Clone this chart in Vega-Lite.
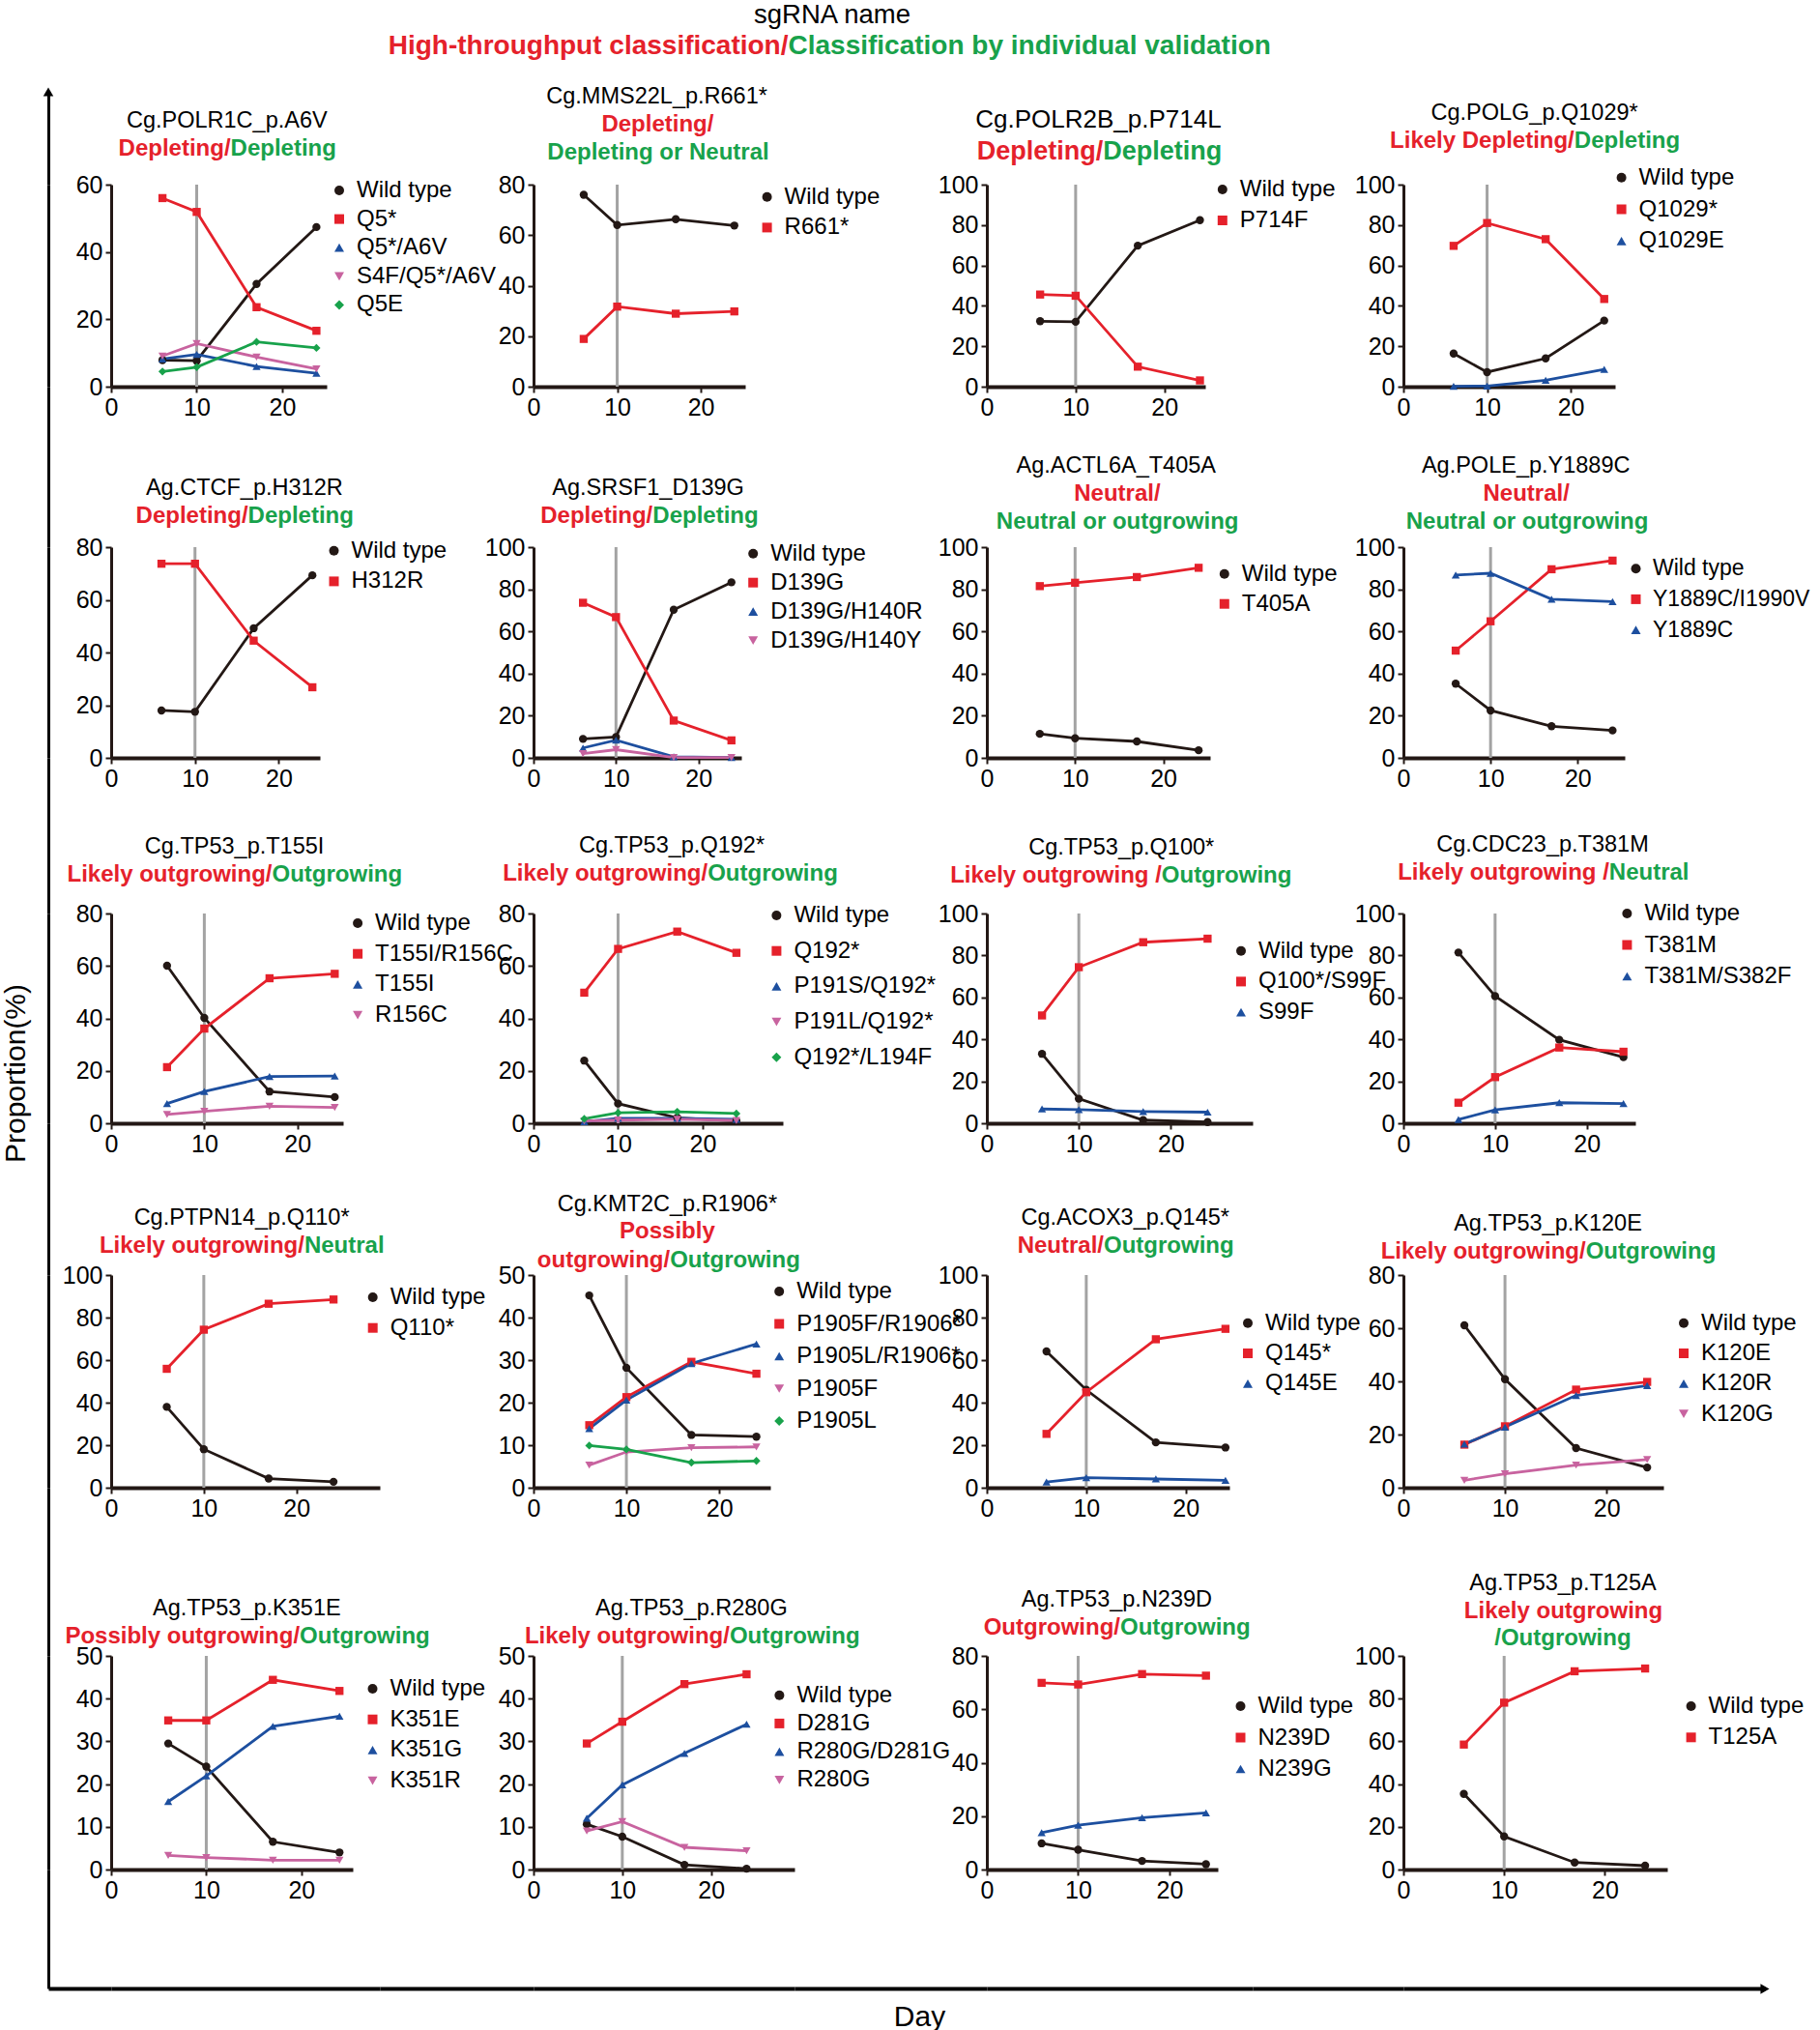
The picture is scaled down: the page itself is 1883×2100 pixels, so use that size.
{
"$schema": "https://vega.github.io/schema/vega-lite/v6.json",
"background": "white",
"padding": {"left": 1, "top": 1, "right": 0, "bottom": 1},
"title": {"text": "sgRNA name", "fontSize": 27.5, "anchor": "start", "dx": 730, "offset": 4},
"columns": 8, "spacing": 0, "bounds": "flush",
"resolve": {"scale": {"color": "independent", "shape": "independent", "stroke": "independent"}, "legend": {"color": "independent", "shape": "independent"}},
"concat": [
 {"width": 65, "height": 96, "data": {"values": [{}]}, "mark": {"type": "point", "shape": "triangle-up", "filled": true, "color": "#000", "size": 110, "opacity": 1},
  "encoding": {"x": {"datum": 0, "type": "quantitative", "scale": {"domain": [0, 1]}, "axis": null}, "y": {"datum": 1, "type": "quantitative", "scale": {"domain": [0, 1]}, "axis": {"domainWidth": 3, "domainColor": "#000", "ticks": false, "labels": false, "title": null}}}},
 {"width": 1, "height": 96, "data": {"values": [{}]}, "mark": {"type": "point", "opacity": 0},
  "encoding": {
   "x": {"datum": 0, "type": "quantitative", "scale": {"domain": [0, 1]}, "axis": {"domain": false, "ticks": false, "labels": false, "title": "High-throughput classification/", "titleX": 700, "titleY": -144, "titleAlign": "right", "titleFontSize": 28}},
   "y": {"datum": 0, "type": "quantitative", "scale": {"domain": [0, 1]}, "axis": {"domain": false, "ticks": false, "labels": false, "title": "Classification by individual validation", "titleX": 700, "titleY": -48, "titleAlign": "left", "titleAngle": 0, "titleFontSize": 28}}}},
 {"width": 1, "height": 1, "data": {"values": []}, "mark": "point", "encoding": {}},
 {"width": 1, "height": 1, "data": {"values": []}, "mark": "point", "encoding": {}},
 {"width": 1, "height": 1, "data": {"values": []}, "mark": "point", "encoding": {}},
 {"width": 1, "height": 1, "data": {"values": []}, "mark": "point", "encoding": {}},
 {"width": 1, "height": 1, "data": {"values": []}, "mark": "point", "encoding": {}},
 {"width": 1, "height": 1, "data": {"values": []}, "mark": "point", "encoding": {}},

 {"width": 65, "height": 209, "data": {"values": [{}]}, "mark": {"type": "point", "opacity": 0}, "encoding": {"y": {"datum": 0, "type": "quantitative", "scale": {"domain": [0, 1]}, "axis": {"domainWidth": 3, "domainColor": "#000", "ticks": false, "labels": false, "title": null}}}},
 {"width": 223, "height": 209, "title": {"text": "Cg.POLR1C_p.A6V", "dx": 8.3},
  "data": {"values": [{"s":"Wild type","d":6,"v":7.9},{"s":"Wild type","d":10,"v":7.7},{"s":"Wild type","d":17,"v":30.5},{"s":"Wild type","d":24,"v":47.4},{"s":"Q5*","d":6,"v":56.0},{"s":"Q5*","d":10,"v":51.9},{"s":"Q5*","d":17,"v":23.6},{"s":"Q5*","d":24,"v":16.6},{"s":"Q5*/A6V","d":6,"v":8.2},{"s":"Q5*/A6V","d":10,"v":9.6},{"s":"Q5*/A6V","d":17,"v":6.0},{"s":"Q5*/A6V","d":24,"v":4.0},{"s":"S4F/Q5*/A6V","d":6,"v":9.1},{"s":"S4F/Q5*/A6V","d":10,"v":12.8},{"s":"S4F/Q5*/A6V","d":17,"v":8.8},{"s":"S4F/Q5*/A6V","d":24,"v":5.3},{"s":"Q5E","d":6,"v":4.5},{"s":"Q5E","d":10,"v":5.8},{"s":"Q5E","d":17,"v":13.3},{"s":"Q5E","d":24,"v":11.5}]},
  "layer": [
   {"data": {"values": [{}]}, "mark": {"type": "rule", "color": "#a3a3a3", "strokeWidth": 3}, "encoding": {"x": {"datum": 10, "type": "quantitative"}}},
   {"mark": {"type": "line", "strokeWidth": 2.8}, "encoding": {
    "x": {"field": "d", "type": "quantitative", "scale": {"domain": [0, 25.2], "nice": false}, "axis": {"values": [0,10,20], "title": "Depleting/", "titleX": 123.1, "titleY": -246.3, "titleAlign": "right"}},
    "y": {"field": "v", "type": "quantitative", "scale": {"domain": [0, 60], "nice": false}, "axis": {"values": [0,20,40,60], "title": "Depleting", "titleX": 123.1, "titleY": -37.3, "titleAlign": "left", "titleAngle": 0}},
    "stroke": {"field": "s", "type": "nominal", "sort": ["Wild type","Q5*","Q5*/A6V","S4F/Q5*/A6V","Q5E"], "scale": {"range": ["#231815","#e5212b","#1d4f9f","#c8639f","#18a24b"]}, "legend": null}}},
   {"mark": {"type": "point", "filled": true, "opacity": 1, "size": 70}, "encoding": {
    "x": {"field": "d", "type": "quantitative"}, "y": {"field": "v", "type": "quantitative"},
    "color": {"field": "s", "type": "nominal", "scale": {"domain": ["Wild type","Q5*","Q5*/A6V","S4F/Q5*/A6V","Q5E"], "range": ["#231815","#e5212b","#1d4f9f","#c8639f","#18a24b"]}, "legend": {"title": null, "orient": "none", "legendX": 224, "legendY": -6, "rowPadding": 5.6}},
    "shape": {"field": "s", "type": "nominal", "scale": {"domain": ["Wild type","Q5*","Q5*/A6V","S4F/Q5*/A6V","Q5E"], "range": ["circle","square","triangle-up","triangle-down","diamond"]}, "legend": {"title": null, "orient": "none", "legendX": 224, "legendY": -6, "rowPadding": 5.6}}}}
  ]},
 {"width": 159, "height": 1, "data": {"values": []}, "mark": "point", "encoding": {}},
 {"width": 219, "height": 209, "title": {"text": "Cg.MMS22L_p.R661*", "dx": 18.1},
  "data": {"values": [{"s":"Wild type","d":6,"v":76.0},{"s":"Wild type","d":10,"v":64.0},{"s":"Wild type","d":17,"v":66.3},{"s":"Wild type","d":24,"v":63.8},{"s":"R661*","d":6,"v":18.9},{"s":"R661*","d":10,"v":31.7},{"s":"R661*","d":17,"v":28.9},{"s":"R661*","d":24,"v":29.8}]},
  "layer": [
   {"data": {"values": [{}]}, "mark": {"type": "rule", "color": "#a3a3a3", "strokeWidth": 3}, "encoding": {"x": {"datum": 10, "type": "quantitative"}}},
   {"mark": {"type": "line", "strokeWidth": 2.8}, "encoding": {
    "x": {"field": "d", "type": "quantitative", "scale": {"domain": [0, 25.3], "nice": false}, "axis": {"values": [0,10,20], "title": "Depleting/", "titleX": 127.9, "titleY": -272, "titleAlign": "center"}},
    "y": {"field": "v", "type": "quantitative", "scale": {"domain": [0, 80], "nice": false}, "axis": {"values": [0,20,40,60,80], "title": "Depleting or Neutral", "titleX": 128.5, "titleY": -34, "titleAlign": "center", "titleAngle": 0}},
    "stroke": {"field": "s", "type": "nominal", "sort": ["Wild type","R661*"], "scale": {"range": ["#231815","#e5212b"]}, "legend": null}}},
   {"mark": {"type": "point", "filled": true, "opacity": 1, "size": 70}, "encoding": {
    "x": {"field": "d", "type": "quantitative"}, "y": {"field": "v", "type": "quantitative"},
    "color": {"field": "s", "type": "nominal", "scale": {"domain": ["Wild type","R661*"], "range": ["#231815","#e5212b"]}, "legend": {"title": null, "orient": "none", "legendX": 229.6, "legendY": 0.7, "rowPadding": 7.7}},
    "shape": {"field": "s", "type": "nominal", "scale": {"domain": ["Wild type","R661*"], "range": ["circle","square"]}, "legend": {"title": null, "orient": "none", "legendX": 229.6, "legendY": 0.7, "rowPadding": 7.7}}}}
  ]},
 {"width": 199, "height": 1, "data": {"values": []}, "mark": "point", "encoding": {}},
 {"width": 226, "height": 209, "title": {"text": "Cg.POLR2B_p.P714L", "dx": 2.4, "fontSize": 26},
  "data": {"values": [{"s":"Wild type","d":6,"v":32.4},{"s":"Wild type","d":10,"v":32.1},{"s":"Wild type","d":17,"v":69.8},{"s":"Wild type","d":24,"v":82.4},{"s":"P714F","d":6,"v":45.6},{"s":"P714F","d":10,"v":45.0},{"s":"P714F","d":17,"v":9.9},{"s":"P714F","d":24,"v":3.1}]},
  "layer": [
   {"data": {"values": [{}]}, "mark": {"type": "rule", "color": "#a3a3a3", "strokeWidth": 3}, "encoding": {"x": {"datum": 10, "type": "quantitative"}}},
   {"mark": {"type": "line", "strokeWidth": 2.8}, "encoding": {
    "x": {"field": "d", "type": "quantitative", "scale": {"domain": [0, 24.6], "nice": false}, "axis": {"values": [0,10,20], "title": "Depleting/", "titleX": 119.75, "titleY": -244, "titleAlign": "right", "titleFontSize": 27}},
    "y": {"field": "v", "type": "quantitative", "scale": {"domain": [0, 100], "nice": false}, "axis": {"values": [0,20,40,60,80,100], "title": "Depleting", "titleX": 119.75, "titleY": -35, "titleAlign": "left", "titleAngle": 0, "titleFontSize": 27}},
    "stroke": {"field": "s", "type": "nominal", "sort": ["Wild type","P714F"], "scale": {"range": ["#231815","#e5212b"]}, "legend": null}}},
   {"mark": {"type": "point", "filled": true, "opacity": 1, "size": 70}, "encoding": {
    "x": {"field": "d", "type": "quantitative"}, "y": {"field": "v", "type": "quantitative"},
    "color": {"field": "s", "type": "nominal", "scale": {"domain": ["Wild type","P714F"], "range": ["#231815","#e5212b"]}, "legend": {"title": null, "orient": "none", "legendX": 231.8, "legendY": -7, "rowPadding": 8}},
    "shape": {"field": "s", "type": "nominal", "scale": {"domain": ["Wild type","P714F"], "range": ["circle","square"]}, "legend": {"title": null, "orient": "none", "legendX": 231.8, "legendY": -7, "rowPadding": 8}}}}
  ]},
 {"width": 156, "height": 1, "data": {"values": []}, "mark": "point", "encoding": {}},
 {"width": 219, "height": 209, "title": {"text": "Cg.POLG_p.Q1029*", "dx": 26.1},
  "data": {"values": [{"s":"Wild type","d":6,"v":16.4},{"s":"Wild type","d":10,"v":7.2},{"s":"Wild type","d":17,"v":14.0},{"s":"Wild type","d":24,"v":32.7},{"s":"Q1029*","d":6,"v":69.7},{"s":"Q1029*","d":10,"v":81.0},{"s":"Q1029*","d":17,"v":73.0},{"s":"Q1029*","d":24,"v":43.4},{"s":"Q1029E","d":6,"v":0.2},{"s":"Q1029E","d":10,"v":0.3},{"s":"Q1029E","d":17,"v":3.2},{"s":"Q1029E","d":24,"v":8.5}]},
  "layer": [
   {"data": {"values": [{}]}, "mark": {"type": "rule", "color": "#a3a3a3", "strokeWidth": 3}, "encoding": {"x": {"datum": 10, "type": "quantitative"}}},
   {"mark": {"type": "line", "strokeWidth": 2.8}, "encoding": {
    "x": {"field": "d", "type": "quantitative", "scale": {"domain": [0, 25.3], "nice": false}, "axis": {"values": [0,10,20], "title": "Likely Depleting/", "titleX": 176.3, "titleY": -254.7, "titleAlign": "right"}},
    "y": {"field": "v", "type": "quantitative", "scale": {"domain": [0, 100], "nice": false}, "axis": {"values": [0,20,40,60,80,100], "title": "Depleting", "titleX": 176.3, "titleY": -45.7, "titleAlign": "left", "titleAngle": 0}},
    "stroke": {"field": "s", "type": "nominal", "sort": ["Wild type","Q1029*","Q1029E"], "scale": {"range": ["#231815","#e5212b","#1d4f9f"]}, "legend": null}}},
   {"mark": {"type": "point", "filled": true, "opacity": 1, "size": 70}, "encoding": {
    "x": {"field": "d", "type": "quantitative"}, "y": {"field": "v", "type": "quantitative"},
    "color": {"field": "s", "type": "nominal", "scale": {"domain": ["Wild type","Q1029*","Q1029E"], "range": ["#231815","#e5212b","#1d4f9f"]}, "legend": {"title": null, "orient": "none", "legendX": 213.6, "legendY": -19.3, "rowPadding": 8.8}},
    "shape": {"field": "s", "type": "nominal", "scale": {"domain": ["Wild type","Q1029*","Q1029E"], "range": ["circle","square","triangle-up"]}, "legend": {"title": null, "orient": "none", "legendX": 213.6, "legendY": -19.3, "rowPadding": 8.8}}}}
  ]},

 {"width": 65, "height": 166, "data": {"values": [{}]}, "mark": {"type": "point", "opacity": 0}, "encoding": {"y": {"datum": 0, "type": "quantitative", "scale": {"domain": [0, 1]}, "axis": {"domainWidth": 3, "domainColor": "#000", "ticks": false, "labels": false, "title": null}}}},
 {"width": 1, "height": 1, "data": {"values": []}, "mark": "point", "encoding": {}},
 {"width": 1, "height": 1, "data": {"values": []}, "mark": "point", "encoding": {}},
 {"width": 1, "height": 1, "data": {"values": []}, "mark": "point", "encoding": {}},
 {"width": 1, "height": 1, "data": {"values": []}, "mark": "point", "encoding": {}},
 {"width": 1, "height": 1, "data": {"values": []}, "mark": "point", "encoding": {}},
 {"width": 1, "height": 1, "data": {"values": []}, "mark": "point", "encoding": {}},
 {"width": 1, "height": 1, "data": {"values": []}, "mark": "point", "encoding": {}},

 {"width": 65, "height": 218, "data": {"values": [{}]}, "mark": {"type": "point", "opacity": 0}, "encoding": {"y": {"datum": 0, "type": "quantitative", "scale": {"domain": [0, 1]}, "axis": {"domainWidth": 3, "domainColor": "#000", "ticks": false, "labels": false, "title": null}}}},
 {"width": 216, "height": 218, "title": {"text": "Ag.CTCF_p.H312R", "dx": 29.8},
  "data": {"values": [{"s":"Wild type","d":6,"v":18.0},{"s":"Wild type","d":10,"v":17.5},{"s":"Wild type","d":17,"v":49.2},{"s":"Wild type","d":24,"v":69.3},{"s":"H312R","d":6,"v":73.7},{"s":"H312R","d":10,"v":73.7},{"s":"H312R","d":17,"v":44.5},{"s":"H312R","d":24,"v":26.8}]},
  "layer": [
   {"data": {"values": [{}]}, "mark": {"type": "rule", "color": "#a3a3a3", "strokeWidth": 3}, "encoding": {"x": {"datum": 10, "type": "quantitative"}}},
   {"mark": {"type": "line", "strokeWidth": 2.8}, "encoding": {
    "x": {"field": "d", "type": "quantitative", "scale": {"domain": [0, 24.9], "nice": false}, "axis": {"values": [0,10,20], "title": "Depleting/", "titleX": 141.1, "titleY": -250.3, "titleAlign": "right"}},
    "y": {"field": "v", "type": "quantitative", "scale": {"domain": [0, 80], "nice": false}, "axis": {"values": [0,20,40,60,80], "title": "Depleting", "titleX": 141.1, "titleY": -32.3, "titleAlign": "left", "titleAngle": 0}},
    "stroke": {"field": "s", "type": "nominal", "sort": ["Wild type","H312R"], "scale": {"range": ["#231815","#e5212b"]}, "legend": null}}},
   {"mark": {"type": "point", "filled": true, "opacity": 1, "size": 70}, "encoding": {
    "x": {"field": "d", "type": "quantitative"}, "y": {"field": "v", "type": "quantitative"},
    "color": {"field": "s", "type": "nominal", "scale": {"domain": ["Wild type","H312R"], "range": ["#231815","#e5212b"]}, "legend": {"title": null, "orient": "none", "legendX": 218.5, "legendY": -8.3, "rowPadding": 7.7}},
    "shape": {"field": "s", "type": "nominal", "scale": {"domain": ["Wild type","H312R"], "range": ["circle","square"]}, "legend": {"title": null, "orient": "none", "legendX": 218.5, "legendY": -8.3, "rowPadding": 7.7}}}}
  ]},
 {"width": 159, "height": 1, "data": {"values": []}, "mark": "point", "encoding": {}},
 {"width": 215, "height": 218, "title": {"text": "Ag.SRSF1_D139G", "dx": 11.1},
  "data": {"values": [{"s":"Wild type","d":6,"v":9.0},{"s":"Wild type","d":10,"v":9.9},{"s":"Wild type","d":17,"v":70.3},{"s":"Wild type","d":24,"v":83.3},{"s":"D139G","d":6,"v":73.6},{"s":"D139G","d":10,"v":66.8},{"s":"D139G","d":17,"v":17.7},{"s":"D139G","d":24,"v":8.3},{"s":"D139G/H140R","d":6,"v":4.7},{"s":"D139G/H140R","d":10,"v":8.4},{"s":"D139G/H140R","d":17,"v":0.5},{"s":"D139G/H140R","d":24,"v":0.2},{"s":"D139G/H140Y","d":6,"v":2.0},{"s":"D139G/H140Y","d":10,"v":3.9},{"s":"D139G/H140Y","d":17,"v":0.2},{"s":"D139G/H140Y","d":24,"v":0.2}]},
  "layer": [
   {"data": {"values": [{}]}, "mark": {"type": "rule", "color": "#a3a3a3", "strokeWidth": 3}, "encoding": {"x": {"datum": 10, "type": "quantitative"}}},
   {"mark": {"type": "line", "strokeWidth": 2.8}, "encoding": {
    "x": {"field": "d", "type": "quantitative", "scale": {"domain": [0, 25.2], "nice": false}, "axis": {"values": [0,10,20], "title": "Depleting/", "titleX": 122.8, "titleY": -250.3, "titleAlign": "right"}},
    "y": {"field": "v", "type": "quantitative", "scale": {"domain": [0, 100], "nice": false}, "axis": {"values": [0,20,40,60,80,100], "title": "Depleting", "titleX": 122.8, "titleY": -32.3, "titleAlign": "left", "titleAngle": 0}},
    "stroke": {"field": "s", "type": "nominal", "sort": ["Wild type","D139G","D139G/H140R","D139G/H140Y"], "scale": {"range": ["#231815","#e5212b","#1d4f9f","#c8639f"]}, "legend": null}}},
   {"mark": {"type": "point", "filled": true, "opacity": 1, "size": 70}, "encoding": {
    "x": {"field": "d", "type": "quantitative"}, "y": {"field": "v", "type": "quantitative"},
    "color": {"field": "s", "type": "nominal", "scale": {"domain": ["Wild type","D139G","D139G/H140R","D139G/H140Y"], "range": ["#231815","#e5212b","#1d4f9f","#c8639f"]}, "legend": {"title": null, "orient": "none", "legendX": 215.2, "legendY": -5.3, "rowPadding": 6}},
    "shape": {"field": "s", "type": "nominal", "scale": {"domain": ["Wild type","D139G","D139G/H140R","D139G/H140Y"], "range": ["circle","square","triangle-up","triangle-down"]}, "legend": {"title": null, "orient": "none", "legendX": 215.2, "legendY": -5.3, "rowPadding": 6}}}}
  ]},
 {"width": 199, "height": 1, "data": {"values": []}, "mark": "point", "encoding": {}},
 {"width": 231, "height": 218, "title": {"text": "Ag.ACTL6A_T405A", "dx": 18.3},
  "data": {"values": [{"s":"Wild type","d":6,"v":11.4},{"s":"Wild type","d":10,"v":9.3},{"s":"Wild type","d":17,"v":7.8},{"s":"Wild type","d":24,"v":3.6},{"s":"T405A","d":6,"v":81.5},{"s":"T405A","d":10,"v":83.1},{"s":"T405A","d":17,"v":85.8},{"s":"T405A","d":24,"v":90.2}]},
  "layer": [
   {"data": {"values": [{}]}, "mark": {"type": "rule", "color": "#a3a3a3", "strokeWidth": 3}, "encoding": {"x": {"datum": 10, "type": "quantitative"}}},
   {"mark": {"type": "line", "strokeWidth": 2.8}, "encoding": {
    "x": {"field": "d", "type": "quantitative", "scale": {"domain": [0, 25.3], "nice": false}, "axis": {"values": [0,10,20], "title": "Neutral/", "titleX": 134.4, "titleY": -273.7, "titleAlign": "center"}},
    "y": {"field": "v", "type": "quantitative", "scale": {"domain": [0, 100], "nice": false}, "axis": {"values": [0,20,40,60,80,100], "title": "Neutral or outgrowing", "titleX": 134.7, "titleY": -26.7, "titleAlign": "center", "titleAngle": 0}},
    "stroke": {"field": "s", "type": "nominal", "sort": ["Wild type","T405A"], "scale": {"range": ["#231815","#e5212b"]}, "legend": null}}},
   {"mark": {"type": "point", "filled": true, "opacity": 1, "size": 70}, "encoding": {
    "x": {"field": "d", "type": "quantitative"}, "y": {"field": "v", "type": "quantitative"},
    "color": {"field": "s", "type": "nominal", "scale": {"domain": ["Wild type","T405A"], "range": ["#231815","#e5212b"]}, "legend": {"title": null, "orient": "none", "legendX": 233.8, "legendY": 15.7, "rowPadding": 7}},
    "shape": {"field": "s", "type": "nominal", "scale": {"domain": ["Wild type","T405A"], "range": ["circle","square"]}, "legend": {"title": null, "orient": "none", "legendX": 233.8, "legendY": 15.7, "rowPadding": 7}}}}
  ]},
 {"width": 156, "height": 1, "data": {"values": []}, "mark": "point", "encoding": {}},
 {"width": 229, "height": 218, "title": {"text": "Ag.POLE_p.Y1889C", "dx": 12.2},
  "data": {"values": [{"s":"Wild type","d":6,"v":35.2},{"s":"Wild type","d":10,"v":22.5},{"s":"Wild type","d":17,"v":15.0},{"s":"Wild type","d":24,"v":13.0},{"s":"Y1889C/I1990V","d":6,"v":50.9},{"s":"Y1889C/I1990V","d":10,"v":64.8},{"s":"Y1889C/I1990V","d":17,"v":89.5},{"s":"Y1889C/I1990V","d":24,"v":93.6},{"s":"Y1889C","d":6,"v":86.8},{"s":"Y1889C","d":10,"v":87.6},{"s":"Y1889C","d":17,"v":75.3},{"s":"Y1889C","d":24,"v":74.1}]},
  "layer": [
   {"data": {"values": [{}]}, "mark": {"type": "rule", "color": "#a3a3a3", "strokeWidth": 3}, "encoding": {"x": {"datum": 10, "type": "quantitative"}}},
   {"mark": {"type": "line", "strokeWidth": 2.8}, "encoding": {
    "x": {"field": "d", "type": "quantitative", "scale": {"domain": [0, 25.4], "nice": false}, "axis": {"values": [0,10,20], "title": "Neutral/", "titleX": 126.7, "titleY": -273.7, "titleAlign": "center"}},
    "y": {"field": "v", "type": "quantitative", "scale": {"domain": [0, 100], "nice": false}, "axis": {"values": [0,20,40,60,80,100], "title": "Neutral or outgrowing", "titleX": 127.6, "titleY": -26.7, "titleAlign": "center", "titleAngle": 0}},
    "stroke": {"field": "s", "type": "nominal", "sort": ["Wild type","Y1889C/I1990V","Y1889C"], "scale": {"range": ["#231815","#e5212b","#1d4f9f"]}, "legend": null}}},
   {"mark": {"type": "point", "filled": true, "opacity": 1, "size": 70}, "encoding": {
    "x": {"field": "d", "type": "quantitative"}, "y": {"field": "v", "type": "quantitative"},
    "color": {"field": "s", "type": "nominal", "scale": {"domain": ["Wild type","Y1889C/I1990V","Y1889C"], "range": ["#231815","#e5212b","#1d4f9f"]}, "legend": {"title": null, "orient": "none", "legendX": 229, "legendY": 10.7, "rowPadding": 7.7, "labelFontSize": 23}},
    "shape": {"field": "s", "type": "nominal", "scale": {"domain": ["Wild type","Y1889C/I1990V","Y1889C"], "range": ["circle","square","triangle-up"]}, "legend": {"title": null, "orient": "none", "legendX": 229, "legendY": 10.7, "rowPadding": 7.7, "labelFontSize": 23}}}}
  ]},

 {"width": 65, "height": 161, "data": {"values": [{}]}, "mark": {"type": "point", "opacity": 0}, "encoding": {"y": {"datum": 0, "type": "quantitative", "scale": {"domain": [0, 1]}, "axis": {"domainWidth": 3, "domainColor": "#000", "ticks": false, "labels": false, "title": null}}}},
 {"width": 1, "height": 1, "data": {"values": []}, "mark": "point", "encoding": {}},
 {"width": 1, "height": 1, "data": {"values": []}, "mark": "point", "encoding": {}},
 {"width": 1, "height": 1, "data": {"values": []}, "mark": "point", "encoding": {}},
 {"width": 1, "height": 1, "data": {"values": []}, "mark": "point", "encoding": {}},
 {"width": 1, "height": 1, "data": {"values": []}, "mark": "point", "encoding": {}},
 {"width": 1, "height": 1, "data": {"values": []}, "mark": "point", "encoding": {}},
 {"width": 1, "height": 1, "data": {"values": []}, "mark": "point", "encoding": {}},

 {"width": 65, "height": 217, "data": {"values": [{}]}, "mark": {"type": "point", "opacity": 0}, "encoding": {"y": {"datum": 0, "type": "quantitative", "scale": {"domain": [0, 1]}, "axis": {"domainWidth": 3, "domainColor": "#000", "ticks": false, "labels": false, "title": "Proportion(%)", "titleX": -19, "titleY": 165, "titleFontSize": 30, "titleFontWeight": "normal", "titleColor": "#000", "titleBaseline": "bottom", "titleAlign": "center"}}}},
 {"width": 240, "height": 217, "title": {"text": "Cg.TP53_p.T155I", "dx": 7.6},
  "data": {"values": [{"s":"Wild type","d":6,"v":60.1},{"s":"Wild type","d":10,"v":40.2},{"s":"Wild type","d":17,"v":12.1},{"s":"Wild type","d":24,"v":10.0},{"s":"T155I/R156C","d":6,"v":21.4},{"s":"T155I/R156C","d":10,"v":36.1},{"s":"T155I/R156C","d":17,"v":55.3},{"s":"T155I/R156C","d":24,"v":57.0},{"s":"T155I","d":6,"v":7.5},{"s":"T155I","d":10,"v":12.1},{"s":"T155I","d":17,"v":17.8},{"s":"T155I","d":24,"v":18.0},{"s":"R156C","d":6,"v":3.4},{"s":"R156C","d":10,"v":4.6},{"s":"R156C","d":17,"v":6.5},{"s":"R156C","d":24,"v":6.0}]},
  "layer": [
   {"data": {"values": [{}]}, "mark": {"type": "rule", "color": "#a3a3a3", "strokeWidth": 3}, "encoding": {"x": {"datum": 10, "type": "quantitative"}}},
   {"mark": {"type": "line", "strokeWidth": 2.8}, "encoding": {
    "x": {"field": "d", "type": "quantitative", "scale": {"domain": [0, 24.9], "nice": false}, "axis": {"values": [0,10,20], "title": "Likely outgrowing/", "titleX": 166, "titleY": -257.3, "titleAlign": "right"}},
    "y": {"field": "v", "type": "quantitative", "scale": {"domain": [0, 80], "nice": false}, "axis": {"values": [0,20,40,60,80], "title": "Outgrowing", "titleX": 166, "titleY": -40.3, "titleAlign": "left", "titleAngle": 0}},
    "stroke": {"field": "s", "type": "nominal", "sort": ["Wild type","T155I/R156C","T155I","R156C"], "scale": {"range": ["#231815","#e5212b","#1d4f9f","#c8639f"]}, "legend": null}}},
   {"mark": {"type": "point", "filled": true, "opacity": 1, "size": 70}, "encoding": {
    "x": {"field": "d", "type": "quantitative"}, "y": {"field": "v", "type": "quantitative"},
    "color": {"field": "s", "type": "nominal", "scale": {"domain": ["Wild type","T155I/R156C","T155I","R156C"], "range": ["#231815","#e5212b","#1d4f9f","#c8639f"]}, "legend": {"title": null, "orient": "none", "legendX": 243.1, "legendY": -2, "rowPadding": 7.7}},
    "shape": {"field": "s", "type": "nominal", "scale": {"domain": ["Wild type","T155I/R156C","T155I","R156C"], "range": ["circle","square","triangle-up","triangle-down"]}, "legend": {"title": null, "orient": "none", "legendX": 243.1, "legendY": -2, "rowPadding": 7.7}}}}
  ]},
 {"width": 159, "height": 1, "data": {"values": []}, "mark": "point", "encoding": {}},
 {"width": 258, "height": 217, "title": {"text": "Cg.TP53_p.Q192*", "dx": 14},
  "data": {"values": [{"s":"Wild type","d":6,"v":23.9},{"s":"Wild type","d":10,"v":7.5},{"s":"Wild type","d":17,"v":2.1},{"s":"Wild type","d":24,"v":0.9},{"s":"Q192*","d":6,"v":49.8},{"s":"Q192*","d":10,"v":66.5},{"s":"Q192*","d":17,"v":73.1},{"s":"Q192*","d":24,"v":65.0},{"s":"P191S/Q192*","d":6,"v":0.6},{"s":"P191S/Q192*","d":10,"v":1.9},{"s":"P191S/Q192*","d":17,"v":1.9},{"s":"P191S/Q192*","d":24,"v":1.5},{"s":"P191L/Q192*","d":6,"v":0.9},{"s":"P191L/Q192*","d":10,"v":1.2},{"s":"P191L/Q192*","d":17,"v":1.5},{"s":"P191L/Q192*","d":24,"v":1.1},{"s":"Q192*/L194F","d":6,"v":1.7},{"s":"Q192*/L194F","d":10,"v":4.0},{"s":"Q192*/L194F","d":17,"v":4.4},{"s":"Q192*/L194F","d":24,"v":3.7}]},
  "layer": [
   {"data": {"values": [{}]}, "mark": {"type": "rule", "color": "#a3a3a3", "strokeWidth": 3}, "encoding": {"x": {"datum": 10, "type": "quantitative"}}},
   {"mark": {"type": "line", "strokeWidth": 2.8}, "encoding": {
    "x": {"field": "d", "type": "quantitative", "scale": {"domain": [0, 29.5], "nice": false}, "axis": {"values": [0,10,20], "title": "Likely outgrowing/", "titleX": 179.7, "titleY": -258.3, "titleAlign": "right"}},
    "y": {"field": "v", "type": "quantitative", "scale": {"domain": [0, 80], "nice": false}, "axis": {"values": [0,20,40,60,80], "title": "Outgrowing", "titleX": 179.7, "titleY": -41.3, "titleAlign": "left", "titleAngle": 0}},
    "stroke": {"field": "s", "type": "nominal", "sort": ["Wild type","Q192*","P191S/Q192*","P191L/Q192*","Q192*/L194F"], "scale": {"range": ["#231815","#e5212b","#1d4f9f","#c8639f","#18a24b"]}, "legend": null}}},
   {"mark": {"type": "point", "filled": true, "opacity": 1, "size": 70}, "encoding": {
    "x": {"field": "d", "type": "quantitative"}, "y": {"field": "v", "type": "quantitative"},
    "color": {"field": "s", "type": "nominal", "scale": {"domain": ["Wild type","Q192*","P191S/Q192*","P191L/Q192*","Q192*/L194F"], "range": ["#231815","#e5212b","#1d4f9f","#c8639f","#18a24b"]}, "legend": {"title": null, "orient": "none", "legendX": 239.4, "legendY": -10, "rowPadding": 12.7}},
    "shape": {"field": "s", "type": "nominal", "scale": {"domain": ["Wild type","Q192*","P191S/Q192*","P191L/Q192*","Q192*/L194F"], "range": ["circle","square","triangle-up","triangle-down","diamond"]}, "legend": {"title": null, "orient": "none", "legendX": 239.4, "legendY": -10, "rowPadding": 12.7}}}}
  ]},
 {"width": 199, "height": 1, "data": {"values": []}, "mark": "point", "encoding": {}},
 {"width": 275, "height": 217, "title": {"text": "Cg.TP53_p.Q100*", "dx": 1.7},
  "data": {"values": [{"s":"Wild type","d":6,"v":33.1},{"s":"Wild type","d":10,"v":11.7},{"s":"Wild type","d":17,"v":1.5},{"s":"Wild type","d":24,"v":0.6},{"s":"Q100*/S99F","d":6,"v":51.4},{"s":"Q100*/S99F","d":10,"v":74.4},{"s":"Q100*/S99F","d":17,"v":86.3},{"s":"Q100*/S99F","d":24,"v":88.0},{"s":"S99F","d":6,"v":6.8},{"s":"S99F","d":10,"v":6.5},{"s":"S99F","d":17,"v":5.6},{"s":"S99F","d":24,"v":5.3}]},
  "layer": [
   {"data": {"values": [{}]}, "mark": {"type": "rule", "color": "#a3a3a3", "strokeWidth": 3}, "encoding": {"x": {"datum": 10, "type": "quantitative"}}},
   {"mark": {"type": "line", "strokeWidth": 2.8}, "encoding": {
    "x": {"field": "d", "type": "quantitative", "scale": {"domain": [0, 28.9], "nice": false}, "axis": {"values": [0,10,20], "title": "Likely outgrowing /", "titleX": 180.3, "titleY": -256.7, "titleAlign": "right"}},
    "y": {"field": "v", "type": "quantitative", "scale": {"domain": [0, 100], "nice": false}, "axis": {"values": [0,20,40,60,80,100], "title": "Outgrowing", "titleX": 180.3, "titleY": -39.7, "titleAlign": "left", "titleAngle": 0}},
    "stroke": {"field": "s", "type": "nominal", "sort": ["Wild type","Q100*/S99F","S99F"], "scale": {"range": ["#231815","#e5212b","#1d4f9f"]}, "legend": null}}},
   {"mark": {"type": "point", "filled": true, "opacity": 1, "size": 70}, "encoding": {
    "x": {"field": "d", "type": "quantitative"}, "y": {"field": "v", "type": "quantitative"},
    "color": {"field": "s", "type": "nominal", "scale": {"domain": ["Wild type","Q100*/S99F","S99F"], "range": ["#231815","#e5212b","#1d4f9f"]}, "legend": {"title": null, "orient": "none", "legendX": 251, "legendY": 26.7, "rowPadding": 7.7}},
    "shape": {"field": "s", "type": "nominal", "scale": {"domain": ["Wild type","Q100*/S99F","S99F"], "range": ["circle","square","triangle-up"]}, "legend": {"title": null, "orient": "none", "legendX": 251, "legendY": 26.7, "rowPadding": 7.7}}}}
  ]},
 {"width": 156, "height": 1, "data": {"values": []}, "mark": "point", "encoding": {}},
 {"width": 240, "height": 217, "title": {"text": "Cg.CDC23_p.T381M", "dx": 24},
  "data": {"values": [{"s":"Wild type","d":6,"v":81.4},{"s":"Wild type","d":10,"v":60.6},{"s":"Wild type","d":17,"v":39.8},{"s":"Wild type","d":24,"v":31.5},{"s":"T381M","d":6,"v":9.8},{"s":"T381M","d":10,"v":22.0},{"s":"T381M","d":17,"v":36.1},{"s":"T381M","d":24,"v":34.1},{"s":"T381M/S382F","d":6,"v":1.8},{"s":"T381M/S382F","d":10,"v":6.4},{"s":"T381M/S382F","d":17,"v":9.8},{"s":"T381M/S382F","d":24,"v":9.4}]},
  "layer": [
   {"data": {"values": [{}]}, "mark": {"type": "rule", "color": "#a3a3a3", "strokeWidth": 3}, "encoding": {"x": {"datum": 10, "type": "quantitative"}}},
   {"mark": {"type": "line", "strokeWidth": 2.8}, "encoding": {
    "x": {"field": "d", "type": "quantitative", "scale": {"domain": [0, 25.3], "nice": false}, "axis": {"values": [0,10,20], "title": "Likely outgrowing /", "titleX": 212.3, "titleY": -260, "titleAlign": "right"}},
    "y": {"field": "v", "type": "quantitative", "scale": {"domain": [0, 100], "nice": false}, "axis": {"values": [0,20,40,60,80,100], "title": "Neutral", "titleX": 212.3, "titleY": -43, "titleAlign": "left", "titleAngle": 0}},
    "stroke": {"field": "s", "type": "nominal", "sort": ["Wild type","T381M","T381M/S382F"], "scale": {"range": ["#231815","#e5212b","#1d4f9f"]}, "legend": null}}},
   {"mark": {"type": "point", "filled": true, "opacity": 1, "size": 70}, "encoding": {
    "x": {"field": "d", "type": "quantitative"}, "y": {"field": "v", "type": "quantitative"},
    "color": {"field": "s", "type": "nominal", "scale": {"domain": ["Wild type","T381M","T381M/S382F"], "range": ["#231815","#e5212b","#1d4f9f"]}, "legend": {"title": null, "orient": "none", "legendX": 219.4, "legendY": -12, "rowPadding": 8.5}},
    "shape": {"field": "s", "type": "nominal", "scale": {"domain": ["Wild type","T381M","T381M/S382F"], "range": ["circle","square","triangle-up"]}, "legend": {"title": null, "orient": "none", "legendX": 219.4, "legendY": -12, "rowPadding": 8.5}}}}
  ]},

 {"width": 65, "height": 157, "data": {"values": [{}]}, "mark": {"type": "point", "opacity": 0}, "encoding": {"y": {"datum": 0, "type": "quantitative", "scale": {"domain": [0, 1]}, "axis": {"domainWidth": 3, "domainColor": "#000", "ticks": false, "labels": false, "title": null}}}},
 {"width": 1, "height": 1, "data": {"values": []}, "mark": "point", "encoding": {}},
 {"width": 1, "height": 1, "data": {"values": []}, "mark": "point", "encoding": {}},
 {"width": 1, "height": 1, "data": {"values": []}, "mark": "point", "encoding": {}},
 {"width": 1, "height": 1, "data": {"values": []}, "mark": "point", "encoding": {}},
 {"width": 1, "height": 1, "data": {"values": []}, "mark": "point", "encoding": {}},
 {"width": 1, "height": 1, "data": {"values": []}, "mark": "point", "encoding": {}},
 {"width": 1, "height": 1, "data": {"values": []}, "mark": "point", "encoding": {}},

 {"width": 65, "height": 220, "data": {"values": [{}]}, "mark": {"type": "point", "opacity": 0}, "encoding": {"y": {"datum": 0, "type": "quantitative", "scale": {"domain": [0, 1]}, "axis": {"domainWidth": 3, "domainColor": "#000", "ticks": false, "labels": false, "title": null}}}},
 {"width": 278, "height": 220, "title": {"text": "Cg.PTPN14_p.Q110*", "dx": -3.9},
  "data": {"values": [{"s":"Wild type","d":6,"v":38.0},{"s":"Wild type","d":10,"v":18.1},{"s":"Wild type","d":17,"v":4.3},{"s":"Wild type","d":24,"v":2.8},{"s":"Q110*","d":6,"v":55.9},{"s":"Q110*","d":10,"v":74.3},{"s":"Q110*","d":17,"v":86.5},{"s":"Q110*","d":24,"v":88.5}]},
  "layer": [
   {"data": {"values": [{}]}, "mark": {"type": "rule", "color": "#a3a3a3", "strokeWidth": 3}, "encoding": {"x": {"datum": 10, "type": "quantitative"}}},
   {"mark": {"type": "line", "strokeWidth": 2.8}, "encoding": {
    "x": {"field": "d", "type": "quantitative", "scale": {"domain": [0, 29.0], "nice": false}, "axis": {"values": [0,10,20], "title": "Likely outgrowing/", "titleX": 199.4, "titleY": -251, "titleAlign": "right"}},
    "y": {"field": "v", "type": "quantitative", "scale": {"domain": [0, 100], "nice": false}, "axis": {"values": [0,20,40,60,80,100], "title": "Neutral", "titleX": 199.4, "titleY": -31, "titleAlign": "left", "titleAngle": 0}},
    "stroke": {"field": "s", "type": "nominal", "sort": ["Wild type","Q110*"], "scale": {"range": ["#231815","#e5212b"]}, "legend": null}}},
   {"mark": {"type": "point", "filled": true, "opacity": 1, "size": 70}, "encoding": {
    "x": {"field": "d", "type": "quantitative"}, "y": {"field": "v", "type": "quantitative"},
    "color": {"field": "s", "type": "nominal", "scale": {"domain": ["Wild type","Q110*"], "range": ["#231815","#e5212b"]}, "legend": {"title": null, "orient": "none", "legendX": 258.7, "legendY": 11, "rowPadding": 7.7}},
    "shape": {"field": "s", "type": "nominal", "scale": {"domain": ["Wild type","Q110*"], "range": ["circle","square"]}, "legend": {"title": null, "orient": "none", "legendX": 258.7, "legendY": 11, "rowPadding": 7.7}}}}
  ]},
 {"width": 159, "height": 1, "data": {"values": []}, "mark": "point", "encoding": {}},
 {"width": 245, "height": 220, "title": {"text": "Cg.KMT2C_p.R1906*", "dx": 15.9, "subtitle": "Possibly", "subtitleColor": "#e5212b", "subtitleFontSize": 24, "subtitleFontWeight": "bold", "subtitleFont": "Liberation Sans", "subtitlePadding": 5},
  "data": {"values": [{"s":"Wild type","d":6,"v":45.2},{"s":"Wild type","d":10,"v":28.2},{"s":"Wild type","d":17,"v":12.4},{"s":"Wild type","d":24,"v":12.0},{"s":"P1905F/R1906*","d":6,"v":14.7},{"s":"P1905F/R1906*","d":10,"v":21.3},{"s":"P1905F/R1906*","d":17,"v":29.6},{"s":"P1905F/R1906*","d":24,"v":26.8},{"s":"P1905L/R1906*","d":6,"v":13.9},{"s":"P1905L/R1906*","d":10,"v":20.6},{"s":"P1905L/R1906*","d":17,"v":29.2},{"s":"P1905L/R1906*","d":24,"v":33.8},{"s":"P1905F","d":6,"v":5.3},{"s":"P1905F","d":10,"v":8.4},{"s":"P1905F","d":17,"v":9.4},{"s":"P1905F","d":24,"v":9.6},{"s":"P1905L","d":6,"v":9.9},{"s":"P1905L","d":10,"v":9.0},{"s":"P1905L","d":17,"v":5.9},{"s":"P1905L","d":24,"v":6.3}]},
  "layer": [
   {"data": {"values": [{}]}, "mark": {"type": "rule", "color": "#a3a3a3", "strokeWidth": 3}, "encoding": {"x": {"datum": 10, "type": "quantitative"}}},
   {"mark": {"type": "line", "strokeWidth": 2.8}, "encoding": {
    "x": {"field": "d", "type": "quantitative", "scale": {"domain": [0, 25.5], "nice": false}, "axis": {"values": [0,10,20], "title": "outgrowing/", "titleX": 140.65, "titleY": -236, "titleAlign": "right"}},
    "y": {"field": "v", "type": "quantitative", "scale": {"domain": [0, 50], "nice": false}, "axis": {"values": [0,10,20,30,40,50], "title": "Outgrowing", "titleX": 140.65, "titleY": -16, "titleAlign": "left", "titleAngle": 0}},
    "stroke": {"field": "s", "type": "nominal", "sort": ["Wild type","P1905F/R1906*","P1905L/R1906*","P1905F","P1905L"], "scale": {"range": ["#231815","#e5212b","#1d4f9f","#c8639f","#18a24b"]}, "legend": null}}},
   {"mark": {"type": "point", "filled": true, "opacity": 1, "size": 70}, "encoding": {
    "x": {"field": "d", "type": "quantitative"}, "y": {"field": "v", "type": "quantitative"},
    "color": {"field": "s", "type": "nominal", "scale": {"domain": ["Wild type","P1905F/R1906*","P1905L/R1906*","P1905F","P1905L"], "range": ["#231815","#e5212b","#1d4f9f","#c8639f","#18a24b"]}, "legend": {"title": null, "orient": "none", "legendX": 242.2, "legendY": 5, "rowPadding": 9.5}},
    "shape": {"field": "s", "type": "nominal", "scale": {"domain": ["Wild type","P1905F/R1906*","P1905L/R1906*","P1905F","P1905L"], "range": ["circle","square","triangle-up","triangle-down","diamond"]}, "legend": {"title": null, "orient": "none", "legendX": 242.2, "legendY": 5, "rowPadding": 9.5}}}}
  ]},
 {"width": 199, "height": 1, "data": {"values": []}, "mark": "point", "encoding": {}},
 {"width": 251, "height": 220, "title": {"text": "Cg.ACOX3_p.Q145*", "dx": 17.7},
  "data": {"values": [{"s":"Wild type","d":6,"v":64.1},{"s":"Wild type","d":10,"v":46.0},{"s":"Wild type","d":17,"v":21.3},{"s":"Wild type","d":24,"v":18.9},{"s":"Q145*","d":6,"v":25.3},{"s":"Q145*","d":10,"v":44.9},{"s":"Q145*","d":17,"v":69.8},{"s":"Q145*","d":24,"v":74.7},{"s":"Q145E","d":6,"v":2.7},{"s":"Q145E","d":10,"v":4.7},{"s":"Q145E","d":17,"v":4.1},{"s":"Q145E","d":24,"v":3.5}]},
  "layer": [
   {"data": {"values": [{}]}, "mark": {"type": "rule", "color": "#a3a3a3", "strokeWidth": 3}, "encoding": {"x": {"datum": 10, "type": "quantitative"}}},
   {"mark": {"type": "line", "strokeWidth": 2.8}, "encoding": {
    "x": {"field": "d", "type": "quantitative", "scale": {"domain": [0, 24.4], "nice": false}, "axis": {"values": [0,10,20], "title": "Neutral/", "titleX": 120.5, "titleY": -251, "titleAlign": "right"}},
    "y": {"field": "v", "type": "quantitative", "scale": {"domain": [0, 100], "nice": false}, "axis": {"values": [0,20,40,60,80,100], "title": "Outgrowing", "titleX": 120.5, "titleY": -31, "titleAlign": "left", "titleAngle": 0}},
    "stroke": {"field": "s", "type": "nominal", "sort": ["Wild type","Q145*","Q145E"], "scale": {"range": ["#231815","#e5212b","#1d4f9f"]}, "legend": null}}},
   {"mark": {"type": "point", "filled": true, "opacity": 1, "size": 70}, "encoding": {
    "x": {"field": "d", "type": "quantitative"}, "y": {"field": "v", "type": "quantitative"},
    "color": {"field": "s", "type": "nominal", "scale": {"domain": ["Wild type","Q145*","Q145E"], "range": ["#231815","#e5212b","#1d4f9f"]}, "legend": {"title": null, "orient": "none", "legendX": 258, "legendY": 37.7, "rowPadding": 7.3}},
    "shape": {"field": "s", "type": "nominal", "scale": {"domain": ["Wild type","Q145*","Q145E"], "range": ["circle","square","triangle-up"]}, "legend": {"title": null, "orient": "none", "legendX": 258, "legendY": 37.7, "rowPadding": 7.3}}}}
  ]},
 {"width": 156, "height": 1, "data": {"values": []}, "mark": "point", "encoding": {}},
 {"width": 269, "height": 220, "title": {"text": "Ag.TP53_p.K120E", "dx": 15},
  "data": {"values": [{"s":"Wild type","d":6,"v":61.1},{"s":"Wild type","d":10,"v":40.8},{"s":"Wild type","d":17,"v":14.9},{"s":"Wild type","d":24,"v":7.6},{"s":"K120E","d":6,"v":16.2},{"s":"K120E","d":10,"v":23.1},{"s":"K120E","d":17,"v":36.9},{"s":"K120E","d":24,"v":39.8},{"s":"K120R","d":6,"v":16.4},{"s":"K120R","d":10,"v":22.8},{"s":"K120R","d":17,"v":34.7},{"s":"K120R","d":24,"v":38.4},{"s":"K120G","d":6,"v":2.8},{"s":"K120G","d":10,"v":5.2},{"s":"K120G","d":17,"v":8.5},{"s":"K120G","d":24,"v":10.6}]},
  "layer": [
   {"data": {"values": [{}]}, "mark": {"type": "rule", "color": "#a3a3a3", "strokeWidth": 3}, "encoding": {"x": {"datum": 10, "type": "quantitative"}}},
   {"mark": {"type": "line", "strokeWidth": 2.8}, "encoding": {
    "x": {"field": "d", "type": "quantitative", "scale": {"domain": [0, 25.6], "nice": false}, "axis": {"values": [0,10,20], "title": "Likely outgrowing/", "titleX": 188.2, "titleY": -244.3, "titleAlign": "right"}},
    "y": {"field": "v", "type": "quantitative", "scale": {"domain": [0, 80], "nice": false}, "axis": {"values": [0,20,40,60,80], "title": "Outgrowing", "titleX": 188.2, "titleY": -24.3, "titleAlign": "left", "titleAngle": 0}},
    "stroke": {"field": "s", "type": "nominal", "sort": ["Wild type","K120E","K120R","K120G"], "scale": {"range": ["#231815","#e5212b","#1d4f9f","#c8639f"]}, "legend": null}}},
   {"mark": {"type": "point", "filled": true, "opacity": 1, "size": 70}, "encoding": {
    "x": {"field": "d", "type": "quantitative"}, "y": {"field": "v", "type": "quantitative"},
    "color": {"field": "s", "type": "nominal", "scale": {"domain": ["Wild type","K120E","K120R","K120G"], "range": ["#231815","#e5212b","#1d4f9f","#c8639f"]}, "legend": {"title": null, "orient": "none", "legendX": 278, "legendY": 37.7, "rowPadding": 7.3}},
    "shape": {"field": "s", "type": "nominal", "scale": {"domain": ["Wild type","K120E","K120R","K120G"], "range": ["circle","square","triangle-up","triangle-down"]}, "legend": {"title": null, "orient": "none", "legendX": 278, "legendY": 37.7, "rowPadding": 7.3}}}}
  ]},

 {"width": 65, "height": 174, "data": {"values": [{}]}, "mark": {"type": "point", "opacity": 0}, "encoding": {"y": {"datum": 0, "type": "quantitative", "scale": {"domain": [0, 1]}, "axis": {"domainWidth": 3, "domainColor": "#000", "ticks": false, "labels": false, "title": null}}}},
 {"width": 1, "height": 1, "data": {"values": []}, "mark": "point", "encoding": {}},
 {"width": 1, "height": 1, "data": {"values": []}, "mark": "point", "encoding": {}},
 {"width": 1, "height": 1, "data": {"values": []}, "mark": "point", "encoding": {}},
 {"width": 1, "height": 1, "data": {"values": []}, "mark": "point", "encoding": {}},
 {"width": 1, "height": 1, "data": {"values": []}, "mark": "point", "encoding": {}},
 {"width": 1, "height": 1, "data": {"values": []}, "mark": "point", "encoding": {}},
 {"width": 1, "height": 1, "data": {"values": []}, "mark": "point", "encoding": {}},

 {"width": 65, "height": 221, "data": {"values": [{}]}, "mark": {"type": "point", "opacity": 0}, "encoding": {"y": {"datum": 0, "type": "quantitative", "scale": {"domain": [0, 1]}, "axis": {"domainWidth": 3, "domainColor": "#000", "ticks": false, "labels": false, "title": null}}}},
 {"width": 250, "height": 221, "title": {"text": "Ag.TP53_p.K351E", "dx": 15.3},
  "data": {"values": [{"s":"Wild type","d":6,"v":29.5},{"s":"Wild type","d":10,"v":24.1},{"s":"Wild type","d":17,"v":6.5},{"s":"Wild type","d":24,"v":4.0},{"s":"K351E","d":6,"v":34.9},{"s":"K351E","d":10,"v":34.9},{"s":"K351E","d":17,"v":44.4},{"s":"K351E","d":24,"v":41.8},{"s":"K351G","d":6,"v":15.9},{"s":"K351G","d":10,"v":21.9},{"s":"K351G","d":17,"v":33.5},{"s":"K351G","d":24,"v":35.9},{"s":"K351R","d":6,"v":3.3},{"s":"K351R","d":10,"v":2.8},{"s":"K351R","d":17,"v":2.2},{"s":"K351R","d":24,"v":2.2}]},
  "layer": [
   {"data": {"values": [{}]}, "mark": {"type": "rule", "color": "#a3a3a3", "strokeWidth": 3}, "encoding": {"x": {"datum": 10, "type": "quantitative"}}},
   {"mark": {"type": "line", "strokeWidth": 2.8}, "encoding": {
    "x": {"field": "d", "type": "quantitative", "scale": {"domain": [0, 25.4], "nice": false}, "axis": {"values": [0,10,20], "title": "Possibly outgrowing/", "titleX": 194.6, "titleY": -241.3, "titleAlign": "right"}},
    "y": {"field": "v", "type": "quantitative", "scale": {"domain": [0, 50], "nice": false}, "axis": {"values": [0,10,20,30,40,50], "title": "Outgrowing", "titleX": 194.6, "titleY": -20.3, "titleAlign": "left", "titleAngle": 0}},
    "stroke": {"field": "s", "type": "nominal", "sort": ["Wild type","K351E","K351G","K351R"], "scale": {"range": ["#231815","#e5212b","#1d4f9f","#c8639f"]}, "legend": null}}},
   {"mark": {"type": "point", "filled": true, "opacity": 1, "size": 70}, "encoding": {
    "x": {"field": "d", "type": "quantitative"}, "y": {"field": "v", "type": "quantitative"},
    "color": {"field": "s", "type": "nominal", "scale": {"domain": ["Wild type","K351E","K351G","K351R"], "range": ["#231815","#e5212b","#1d4f9f","#c8639f"]}, "legend": {"title": null, "orient": "none", "legendX": 258.5, "legendY": 22, "rowPadding": 7.7}},
    "shape": {"field": "s", "type": "nominal", "scale": {"domain": ["Wild type","K351E","K351G","K351R"], "range": ["circle","square","triangle-up","triangle-down"]}, "legend": {"title": null, "orient": "none", "legendX": 258.5, "legendY": 22, "rowPadding": 7.7}}}}
  ]},
 {"width": 159, "height": 1, "data": {"values": []}, "mark": "point", "encoding": {}},
 {"width": 270, "height": 221, "title": {"text": "Ag.TP53_p.R280G", "dx": 28.4},
  "data": {"values": [{"s":"Wild type","d":6,"v":10.6},{"s":"Wild type","d":10,"v":7.7},{"s":"Wild type","d":17,"v":1.1},{"s":"Wild type","d":24,"v":0.2},{"s":"D281G","d":6,"v":29.5},{"s":"D281G","d":10,"v":34.6},{"s":"D281G","d":17,"v":43.4},{"s":"D281G","d":24,"v":45.7},{"s":"R280G/D281G","d":6,"v":12.0},{"s":"R280G/D281G","d":10,"v":19.8},{"s":"R280G/D281G","d":17,"v":27.2},{"s":"R280G/D281G","d":24,"v":34.0},{"s":"R280G","d":6,"v":9.0},{"s":"R280G","d":10,"v":11.2},{"s":"R280G","d":17,"v":5.2},{"s":"R280G","d":24,"v":4.4}]},
  "layer": [
   {"data": {"values": [{}]}, "mark": {"type": "rule", "color": "#a3a3a3", "strokeWidth": 3}, "encoding": {"x": {"datum": 10, "type": "quantitative"}}},
   {"mark": {"type": "line", "strokeWidth": 2.8}, "encoding": {
    "x": {"field": "d", "type": "quantitative", "scale": {"domain": [0, 29.4], "nice": false}, "axis": {"values": [0,10,20], "title": "Likely outgrowing/", "titleX": 202.4, "titleY": -241.3, "titleAlign": "right"}},
    "y": {"field": "v", "type": "quantitative", "scale": {"domain": [0, 50], "nice": false}, "axis": {"values": [0,10,20,30,40,50], "title": "Outgrowing", "titleX": 202.4, "titleY": -20.3, "titleAlign": "left", "titleAngle": 0}},
    "stroke": {"field": "s", "type": "nominal", "sort": ["Wild type","D281G","R280G/D281G","R280G"], "scale": {"range": ["#231815","#e5212b","#1d4f9f","#c8639f"]}, "legend": null}}},
   {"mark": {"type": "point", "filled": true, "opacity": 1, "size": 70}, "encoding": {
    "x": {"field": "d", "type": "quantitative"}, "y": {"field": "v", "type": "quantitative"},
    "color": {"field": "s", "type": "nominal", "scale": {"domain": ["Wild type","D281G","R280G/D281G","R280G"], "range": ["#231815","#e5212b","#1d4f9f","#c8639f"]}, "legend": {"title": null, "orient": "none", "legendX": 242.4, "legendY": 28.7, "rowPadding": 5.2}},
    "shape": {"field": "s", "type": "nominal", "scale": {"domain": ["Wild type","D281G","R280G/D281G","R280G"], "range": ["circle","square","triangle-up","triangle-down"]}, "legend": {"title": null, "orient": "none", "legendX": 242.4, "legendY": 28.7, "rowPadding": 5.2}}}}
  ]},
 {"width": 199, "height": 1, "data": {"values": []}, "mark": "point", "encoding": {}},
 {"width": 239, "height": 221, "title": {"text": "Ag.TP53_p.N239D", "dx": 14.9},
  "data": {"values": [{"s":"Wild type","d":6,"v":9.8},{"s":"Wild type","d":10,"v":7.4},{"s":"Wild type","d":17,"v":3.2},{"s":"Wild type","d":24,"v":2.0},{"s":"N239D","d":6,"v":69.9},{"s":"N239D","d":10,"v":69.3},{"s":"N239D","d":17,"v":73.2},{"s":"N239D","d":24,"v":72.6},{"s":"N239G","d":6,"v":13.8},{"s":"N239G","d":10,"v":16.6},{"s":"N239G","d":17,"v":19.4},{"s":"N239G","d":24,"v":21.2}]},
  "layer": [
   {"data": {"values": [{}]}, "mark": {"type": "rule", "color": "#a3a3a3", "strokeWidth": 3}, "encoding": {"x": {"datum": 10, "type": "quantitative"}}},
   {"mark": {"type": "line", "strokeWidth": 2.8}, "encoding": {
    "x": {"field": "d", "type": "quantitative", "scale": {"domain": [0, 25.3], "nice": false}, "axis": {"values": [0,10,20], "title": "Outgrowing/", "titleX": 137.5, "titleY": -251, "titleAlign": "right"}},
    "y": {"field": "v", "type": "quantitative", "scale": {"domain": [0, 80], "nice": false}, "axis": {"values": [0,20,40,60,80], "title": "Outgrowing", "titleX": 137.5, "titleY": -30, "titleAlign": "left", "titleAngle": 0}},
    "stroke": {"field": "s", "type": "nominal", "sort": ["Wild type","N239D","N239G"], "scale": {"range": ["#231815","#e5212b","#1d4f9f"]}, "legend": null}}},
   {"mark": {"type": "point", "filled": true, "opacity": 1, "size": 70}, "encoding": {
    "x": {"field": "d", "type": "quantitative"}, "y": {"field": "v", "type": "quantitative"},
    "color": {"field": "s", "type": "nominal", "scale": {"domain": ["Wild type","N239D","N239G"], "range": ["#231815","#e5212b","#1d4f9f"]}, "legend": {"title": null, "orient": "none", "legendX": 250.5, "legendY": 40, "rowPadding": 8.5}},
    "shape": {"field": "s", "type": "nominal", "scale": {"domain": ["Wild type","N239D","N239G"], "range": ["circle","square","triangle-up"]}, "legend": {"title": null, "orient": "none", "legendX": 250.5, "legendY": 40, "rowPadding": 8.5}}}}
  ]},
 {"width": 156, "height": 1, "data": {"values": []}, "mark": "point", "encoding": {}},
 {"width": 273, "height": 221, "title": {"text": "Ag.TP53_p.T125A", "dx": 28.5},
  "data": {"values": [{"s":"Wild type","d":6,"v":35.4},{"s":"Wild type","d":10,"v":15.5},{"s":"Wild type","d":17,"v":3.3},{"s":"Wild type","d":24,"v":1.8},{"s":"T125A","d":6,"v":58.5},{"s":"T125A","d":10,"v":78.1},{"s":"T125A","d":17,"v":92.8},{"s":"T125A","d":24,"v":94.1}]},
  "layer": [
   {"data": {"values": [{}]}, "mark": {"type": "rule", "color": "#a3a3a3", "strokeWidth": 3}, "encoding": {"x": {"datum": 10, "type": "quantitative"}}},
   {"mark": {"type": "line", "strokeWidth": 2.8}, "encoding": {
    "x": {"field": "d", "type": "quantitative", "scale": {"domain": [0, 26.2], "nice": false}, "axis": {"values": [0,10,20], "title": "Likely outgrowing", "titleX": 165, "titleY": -267.7, "titleAlign": "center"}},
    "y": {"field": "v", "type": "quantitative", "scale": {"domain": [0, 100], "nice": false}, "axis": {"values": [0,20,40,60,80,100], "title": "/Outgrowing", "titleX": 164.4, "titleY": -18.3, "titleAlign": "center", "titleAngle": 0}},
    "stroke": {"field": "s", "type": "nominal", "sort": ["Wild type","T125A"], "scale": {"range": ["#231815","#e5212b"]}, "legend": null}}},
   {"mark": {"type": "point", "filled": true, "opacity": 1, "size": 70}, "encoding": {
    "x": {"field": "d", "type": "quantitative"}, "y": {"field": "v", "type": "quantitative"},
    "color": {"field": "s", "type": "nominal", "scale": {"domain": ["Wild type","T125A"], "range": ["#231815","#e5212b"]}, "legend": {"title": null, "orient": "none", "legendX": 285.6, "legendY": 40, "rowPadding": 8.3}},
    "shape": {"field": "s", "type": "nominal", "scale": {"domain": ["Wild type","T125A"], "range": ["circle","square"]}, "legend": {"title": null, "orient": "none", "legendX": 285.6, "legendY": 40, "rowPadding": 8.3}}}}
  ]},

 {"width": 65, "height": 123, "data": {"values": [{}]}, "mark": {"type": "point", "opacity": 0}, "encoding": {"y": {"datum": 0, "type": "quantitative", "scale": {"domain": [0, 1]}, "axis": {"domainWidth": 3, "domainColor": "#000", "ticks": false, "labels": false, "title": null}}}},
 {"width": 1, "height": 1, "data": {"values": []}, "mark": "point", "encoding": {}},
 {"width": 1, "height": 1, "data": {"values": []}, "mark": "point", "encoding": {}},
 {"width": 1, "height": 1, "data": {"values": []}, "mark": "point", "encoding": {}},
 {"width": 1, "height": 1, "data": {"values": []}, "mark": "point", "encoding": {}},
 {"width": 1, "height": 1, "data": {"values": []}, "mark": "point", "encoding": {}},
 {"width": 1, "height": 1, "data": {"values": []}, "mark": "point", "encoding": {}},
 {"width": 1, "height": 1, "data": {"values": []}, "mark": "point", "encoding": {}},

 {"width": 65, "height": 1, "data": {"values": [{}]}, "mark": {"type": "point", "opacity": 0}, "encoding": {"x": {"datum": 0, "type": "quantitative", "scale": {"domain": [0, 1]}, "axis": {"orient": "top", "domainWidth": 4, "domainColor": "#000", "ticks": false, "labels": false, "title": null}}}},
 {"width": 278, "height": 1, "data": {"values": [{}]}, "mark": {"type": "point", "opacity": 0}, "encoding": {"x": {"datum": 0, "type": "quantitative", "scale": {"domain": [0, 1]}, "axis": {"orient": "top", "domainWidth": 4, "domainColor": "#000", "ticks": false, "labels": false, "title": null}}}},
 {"width": 159, "height": 1, "data": {"values": [{}]}, "mark": {"type": "point", "opacity": 0}, "encoding": {"x": {"datum": 0, "type": "quantitative", "scale": {"domain": [0, 1]}, "axis": {"orient": "top", "domainWidth": 4, "domainColor": "#000", "ticks": false, "labels": false, "title": null}}}},
 {"width": 270, "height": 1, "data": {"values": [{}]}, "mark": {"type": "point", "opacity": 0}, "encoding": {"x": {"datum": 0, "type": "quantitative", "scale": {"domain": [0, 1]}, "axis": {"orient": "top", "domainWidth": 4, "domainColor": "#000", "ticks": false, "labels": false, "title": null}}}},
 {"width": 199, "height": 1, "data": {"values": [{}]}, "mark": {"type": "point", "opacity": 0}, "encoding": {"x": {"datum": 0, "type": "quantitative", "scale": {"domain": [0, 1]}, "axis": {"orient": "top", "domainWidth": 4, "domainColor": "#000", "ticks": false, "labels": false, "title": "Day", "titleX": 129, "titleY": 29, "titleFontSize": 30, "titleFontWeight": "normal", "titleColor": "#000", "titleAlign": "center", "titleBaseline": "middle"}}}},
 {"width": 275, "height": 1, "data": {"values": [{}]}, "mark": {"type": "point", "opacity": 0}, "encoding": {"x": {"datum": 0, "type": "quantitative", "scale": {"domain": [0, 1]}, "axis": {"orient": "top", "domainWidth": 4, "domainColor": "#000", "ticks": false, "labels": false, "title": null}}}},
 {"width": 156, "height": 1, "data": {"values": [{}]}, "mark": {"type": "point", "opacity": 0}, "encoding": {"x": {"datum": 0, "type": "quantitative", "scale": {"domain": [0, 1]}, "axis": {"orient": "top", "domainWidth": 4, "domainColor": "#000", "ticks": false, "labels": false, "title": null}}}},
 {"width": 374, "height": 1, "data": {"values": [{}]}, "mark": {"type": "point", "shape": "triangle-right", "filled": true, "color": "#000", "size": 110, "opacity": 1}, "encoding": {"x": {"datum": 1, "type": "quantitative", "scale": {"domain": [0, 1]}, "axis": {"orient": "top", "domainWidth": 4, "domainColor": "#000", "ticks": false, "labels": false, "title": null}}}}
],
"config": {
 "font": "Liberation Sans",
 "view": {"stroke": null},
 "axis": {"grid": false, "domainColor": "#231815", "tickColor": "#231815", "labelColor": "#000", "labelFontSize": 25, "labelFont": "Liberation Sans", "labelPadding": 3, "tickSize": 6, "tickWidth": 2, "labelFlush": false, "labelOverlap": false, "titleFont": "Liberation Sans", "titleFontWeight": "bold", "titleFontSize": 24, "titleBaseline": "middle", "titleLineHeight": 29.3},
 "axisX": {"domainWidth": 4, "titleColor": "#e5212b", "labelAngle": 0},
 "axisY": {"domainWidth": 3, "titleColor": "#18a24b"},
 "legend": {"labelFontSize": 24, "labelFont": "Liberation Sans", "labelColor": "#000", "symbolSize": 100, "symbolStrokeWidth": 0, "rowPadding": 8, "labelOffset": 6, "padding": 0, "labelLimit": 400, "orient": "none"},
 "title": {"font": "Liberation Sans", "fontSize": 23.5, "fontWeight": "normal", "color": "#000", "anchor": "middle", "frame": "group", "offset": 5}
}
}
